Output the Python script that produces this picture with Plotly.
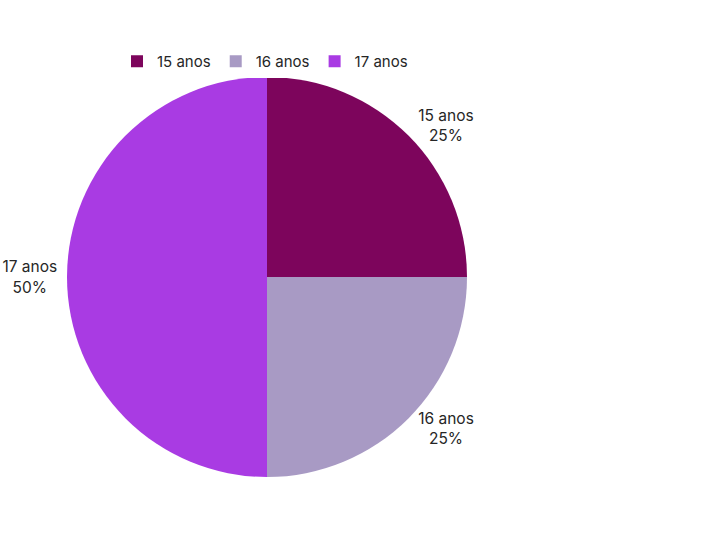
import plotly.graph_objects as go

categories = ["15 anos", "16 anos", "17 anos"]
values = [25, 25, 50]
colors = ["#7D055C", "#A89AC4", "#A93BE3"]

W, H = 727, 535
cx, cy, r = 267, 277, 200

fig = go.Figure(go.Pie(
    labels=categories,
    values=values,
    sort=False,
    direction="clockwise",
    rotation=0,
    automargin=False,
    marker=dict(colors=colors, line=dict(width=0)),
    textinfo="label+percent",
    texttemplate="%{label}<br>%{percent:.0%}",
    textposition="outside",
    outsidetextfont=dict(color="#262626", size=15.5, family="Inter"),
    hoverinfo="label+percent",
    domain=dict(x=[(cx - r) / W, (cx + r) / W], y=[1 - (cy + r) / H, 1 - (cy - r) / H]),
))

fig.update_layout(
    width=W, height=H,
    margin=dict(l=0, r=0, t=0, b=0, autoexpand=False),
    paper_bgcolor="white",
    plot_bgcolor="white",
    font=dict(family="Inter", size=15, color="#262626"),
    showlegend=True,
    legend=dict(orientation="h", x=265 / W, xanchor="center", y=1 - 45 / H, yanchor="top",
                font=dict(size=15, color="#262626"), itemwidth=30),
)

fig.write_html("out.html", config={"displayModeBar": False},
               post_script="document.body.style.margin='0';")
